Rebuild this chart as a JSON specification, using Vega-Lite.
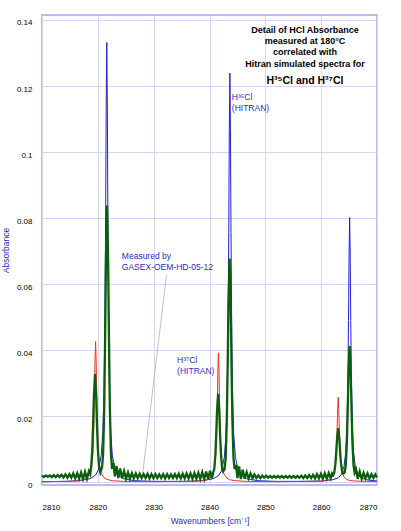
{
  "$schema": "https://vega.github.io/schema/vega-lite/v6.json",
  "width": 335,
  "height": 470,
  "autosize": {"type": "none"},
  "padding": {"left": 42, "top": 15, "right": 24, "bottom": 46},
  "datasets": {
    "spectra": [
      {"wn": 2810, "abs": 0.0002, "series": "H35Cl"},
      {"wn": 2814, "abs": 0.0003, "series": "H35Cl"},
      {"wn": 2816.6, "abs": 0.0005, "series": "H35Cl"},
      {"wn": 2818.6, "abs": 0.0011, "series": "H35Cl"},
      {"wn": 2819.6, "abs": 0.0022, "series": "H35Cl"},
      {"wn": 2820.1, "abs": 0.0038, "series": "H35Cl"},
      {"wn": 2820.6, "abs": 0.008, "series": "H35Cl"},
      {"wn": 2820.9, "abs": 0.0152, "series": "H35Cl"},
      {"wn": 2821.1, "abs": 0.0268, "series": "H35Cl"},
      {"wn": 2821.25, "abs": 0.045, "series": "H35Cl"},
      {"wn": 2821.4, "abs": 0.0813, "series": "H35Cl"},
      {"wn": 2821.5, "abs": 0.1148, "series": "H35Cl"},
      {"wn": 2821.6, "abs": 0.1332, "series": "H35Cl"},
      {"wn": 2821.7, "abs": 0.1148, "series": "H35Cl"},
      {"wn": 2821.8, "abs": 0.0813, "series": "H35Cl"},
      {"wn": 2821.95, "abs": 0.045, "series": "H35Cl"},
      {"wn": 2822.1, "abs": 0.0268, "series": "H35Cl"},
      {"wn": 2822.3, "abs": 0.0152, "series": "H35Cl"},
      {"wn": 2822.6, "abs": 0.008, "series": "H35Cl"},
      {"wn": 2823.1, "abs": 0.0038, "series": "H35Cl"},
      {"wn": 2823.6, "abs": 0.0022, "series": "H35Cl"},
      {"wn": 2824.6, "abs": 0.0011, "series": "H35Cl"},
      {"wn": 2826.6, "abs": 0.0005, "series": "H35Cl"},
      {"wn": 2830, "abs": 0.0003, "series": "H35Cl"},
      {"wn": 2835, "abs": 0.0003, "series": "H35Cl"},
      {"wn": 2838.65, "abs": 0.0005, "series": "H35Cl"},
      {"wn": 2840.65, "abs": 0.0011, "series": "H35Cl"},
      {"wn": 2841.65, "abs": 0.0021, "series": "H35Cl"},
      {"wn": 2842.15, "abs": 0.0035, "series": "H35Cl"},
      {"wn": 2842.65, "abs": 0.0075, "series": "H35Cl"},
      {"wn": 2842.95, "abs": 0.0142, "series": "H35Cl"},
      {"wn": 2843.15, "abs": 0.0249, "series": "H35Cl"},
      {"wn": 2843.3, "abs": 0.042, "series": "H35Cl"},
      {"wn": 2843.45, "abs": 0.0757, "series": "H35Cl"},
      {"wn": 2843.55, "abs": 0.1068, "series": "H35Cl"},
      {"wn": 2843.65, "abs": 0.1239, "series": "H35Cl"},
      {"wn": 2843.75, "abs": 0.1068, "series": "H35Cl"},
      {"wn": 2843.85, "abs": 0.0757, "series": "H35Cl"},
      {"wn": 2844.0, "abs": 0.042, "series": "H35Cl"},
      {"wn": 2844.15, "abs": 0.0249, "series": "H35Cl"},
      {"wn": 2844.35, "abs": 0.0142, "series": "H35Cl"},
      {"wn": 2844.65, "abs": 0.0075, "series": "H35Cl"},
      {"wn": 2845.15, "abs": 0.0035, "series": "H35Cl"},
      {"wn": 2845.65, "abs": 0.0021, "series": "H35Cl"},
      {"wn": 2846.65, "abs": 0.0011, "series": "H35Cl"},
      {"wn": 2848.65, "abs": 0.0005, "series": "H35Cl"},
      {"wn": 2852, "abs": 0.0003, "series": "H35Cl"},
      {"wn": 2856, "abs": 0.0003, "series": "H35Cl"},
      {"wn": 2860.1, "abs": 0.0004, "series": "H35Cl"},
      {"wn": 2862.1, "abs": 0.0008, "series": "H35Cl"},
      {"wn": 2863.1, "abs": 0.0014, "series": "H35Cl"},
      {"wn": 2863.6, "abs": 0.0024, "series": "H35Cl"},
      {"wn": 2864.1, "abs": 0.0049, "series": "H35Cl"},
      {"wn": 2864.4, "abs": 0.0092, "series": "H35Cl"},
      {"wn": 2864.6, "abs": 0.0162, "series": "H35Cl"},
      {"wn": 2864.75, "abs": 0.0272, "series": "H35Cl"},
      {"wn": 2864.9, "abs": 0.049, "series": "H35Cl"},
      {"wn": 2865.0, "abs": 0.0692, "series": "H35Cl"},
      {"wn": 2865.1, "abs": 0.0802, "series": "H35Cl"},
      {"wn": 2865.2, "abs": 0.0692, "series": "H35Cl"},
      {"wn": 2865.3, "abs": 0.049, "series": "H35Cl"},
      {"wn": 2865.45, "abs": 0.0272, "series": "H35Cl"},
      {"wn": 2865.6, "abs": 0.0162, "series": "H35Cl"},
      {"wn": 2865.8, "abs": 0.0092, "series": "H35Cl"},
      {"wn": 2866.1, "abs": 0.0049, "series": "H35Cl"},
      {"wn": 2866.6, "abs": 0.0024, "series": "H35Cl"},
      {"wn": 2867.1, "abs": 0.0014, "series": "H35Cl"},
      {"wn": 2868.1, "abs": 0.0008, "series": "H35Cl"},
      {"wn": 2870, "abs": 0.0004, "series": "H35Cl"},

      {"wn": 2810, "abs": 0.0002, "series": "H37Cl"},
      {"wn": 2814.6, "abs": 0.0003, "series": "H37Cl"},
      {"wn": 2816.6, "abs": 0.0005, "series": "H37Cl"},
      {"wn": 2817.6, "abs": 0.0009, "series": "H37Cl"},
      {"wn": 2818.1, "abs": 0.0014, "series": "H37Cl"},
      {"wn": 2818.6, "abs": 0.0027, "series": "H37Cl"},
      {"wn": 2818.9, "abs": 0.005, "series": "H37Cl"},
      {"wn": 2819.1, "abs": 0.0087, "series": "H37Cl"},
      {"wn": 2819.25, "abs": 0.0145, "series": "H37Cl"},
      {"wn": 2819.4, "abs": 0.0261, "series": "H37Cl"},
      {"wn": 2819.5, "abs": 0.0367, "series": "H37Cl"},
      {"wn": 2819.6, "abs": 0.0426, "series": "H37Cl"},
      {"wn": 2819.7, "abs": 0.0367, "series": "H37Cl"},
      {"wn": 2819.8, "abs": 0.0261, "series": "H37Cl"},
      {"wn": 2819.95, "abs": 0.0145, "series": "H37Cl"},
      {"wn": 2820.1, "abs": 0.0087, "series": "H37Cl"},
      {"wn": 2820.3, "abs": 0.005, "series": "H37Cl"},
      {"wn": 2820.6, "abs": 0.0027, "series": "H37Cl"},
      {"wn": 2821.1, "abs": 0.0014, "series": "H37Cl"},
      {"wn": 2821.6, "abs": 0.0009, "series": "H37Cl"},
      {"wn": 2822.6, "abs": 0.0005, "series": "H37Cl"},
      {"wn": 2824.6, "abs": 0.0003, "series": "H37Cl"},
      {"wn": 2830, "abs": 0.0002, "series": "H37Cl"},
      {"wn": 2836.6, "abs": 0.0003, "series": "H37Cl"},
      {"wn": 2838.6, "abs": 0.0005, "series": "H37Cl"},
      {"wn": 2839.6, "abs": 0.0008, "series": "H37Cl"},
      {"wn": 2840.1, "abs": 0.0013, "series": "H37Cl"},
      {"wn": 2840.6, "abs": 0.0025, "series": "H37Cl"},
      {"wn": 2840.9, "abs": 0.0046, "series": "H37Cl"},
      {"wn": 2841.1, "abs": 0.008, "series": "H37Cl"},
      {"wn": 2841.25, "abs": 0.0134, "series": "H37Cl"},
      {"wn": 2841.4, "abs": 0.024, "series": "H37Cl"},
      {"wn": 2841.5, "abs": 0.0338, "series": "H37Cl"},
      {"wn": 2841.6, "abs": 0.0392, "series": "H37Cl"},
      {"wn": 2841.7, "abs": 0.0338, "series": "H37Cl"},
      {"wn": 2841.8, "abs": 0.024, "series": "H37Cl"},
      {"wn": 2841.95, "abs": 0.0134, "series": "H37Cl"},
      {"wn": 2842.1, "abs": 0.008, "series": "H37Cl"},
      {"wn": 2842.3, "abs": 0.0046, "series": "H37Cl"},
      {"wn": 2842.6, "abs": 0.0025, "series": "H37Cl"},
      {"wn": 2843.1, "abs": 0.0013, "series": "H37Cl"},
      {"wn": 2843.6, "abs": 0.0008, "series": "H37Cl"},
      {"wn": 2844.6, "abs": 0.0005, "series": "H37Cl"},
      {"wn": 2846.6, "abs": 0.0003, "series": "H37Cl"},
      {"wn": 2852, "abs": 0.0002, "series": "H37Cl"},
      {"wn": 2858.05, "abs": 0.0003, "series": "H37Cl"},
      {"wn": 2860.05, "abs": 0.0004, "series": "H37Cl"},
      {"wn": 2861.05, "abs": 0.0006, "series": "H37Cl"},
      {"wn": 2861.55, "abs": 0.0009, "series": "H37Cl"},
      {"wn": 2862.05, "abs": 0.0017, "series": "H37Cl"},
      {"wn": 2862.35, "abs": 0.0031, "series": "H37Cl"},
      {"wn": 2862.55, "abs": 0.0053, "series": "H37Cl"},
      {"wn": 2862.7, "abs": 0.0089, "series": "H37Cl"},
      {"wn": 2862.85, "abs": 0.0158, "series": "H37Cl"},
      {"wn": 2862.95, "abs": 0.0223, "series": "H37Cl"},
      {"wn": 2863.05, "abs": 0.0258, "series": "H37Cl"},
      {"wn": 2863.15, "abs": 0.0223, "series": "H37Cl"},
      {"wn": 2863.25, "abs": 0.0158, "series": "H37Cl"},
      {"wn": 2863.4, "abs": 0.0089, "series": "H37Cl"},
      {"wn": 2863.55, "abs": 0.0053, "series": "H37Cl"},
      {"wn": 2863.75, "abs": 0.0031, "series": "H37Cl"},
      {"wn": 2864.05, "abs": 0.0017, "series": "H37Cl"},
      {"wn": 2864.55, "abs": 0.0009, "series": "H37Cl"},
      {"wn": 2865.05, "abs": 0.0006, "series": "H37Cl"},
      {"wn": 2866.05, "abs": 0.0004, "series": "H37Cl"},
      {"wn": 2868.05, "abs": 0.0003, "series": "H37Cl"},
      {"wn": 2870, "abs": 0.0002, "series": "H37Cl"},

      {"wn": 2810.0, "abs": 0.0021, "series": "Measured"},
      {"wn": 2810.35, "abs": 0.0016, "series": "Measured"},
      {"wn": 2810.7, "abs": 0.0021, "series": "Measured"},
      {"wn": 2811.05, "abs": 0.0017, "series": "Measured"},
      {"wn": 2811.4, "abs": 0.0021, "series": "Measured"},
      {"wn": 2811.75, "abs": 0.0016, "series": "Measured"},
      {"wn": 2812.1, "abs": 0.0022, "series": "Measured"},
      {"wn": 2812.45, "abs": 0.0016, "series": "Measured"},
      {"wn": 2812.8, "abs": 0.0022, "series": "Measured"},
      {"wn": 2813.15, "abs": 0.0016, "series": "Measured"},
      {"wn": 2813.5, "abs": 0.0023, "series": "Measured"},
      {"wn": 2813.85, "abs": 0.0015, "series": "Measured"},
      {"wn": 2814.2, "abs": 0.0024, "series": "Measured"},
      {"wn": 2814.55, "abs": 0.0014, "series": "Measured"},
      {"wn": 2814.9, "abs": 0.0025, "series": "Measured"},
      {"wn": 2815.25, "abs": 0.0014, "series": "Measured"},
      {"wn": 2815.6, "abs": 0.0027, "series": "Measured"},
      {"wn": 2815.95, "abs": 0.0012, "series": "Measured"},
      {"wn": 2816.3, "abs": 0.0028, "series": "Measured"},
      {"wn": 2816.65, "abs": 0.0011, "series": "Measured"},
      {"wn": 2817.0, "abs": 0.003, "series": "Measured"},
      {"wn": 2817.35, "abs": 0.001, "series": "Measured"},
      {"wn": 2817.7, "abs": 0.0032, "series": "Measured"},
      {"wn": 2818.05, "abs": 0.0011, "series": "Measured"},
      {"wn": 2818.4, "abs": 0.0034, "series": "Measured"},
      {"wn": 2818.65, "abs": 0.0025, "series": "Measured"},
      {"wn": 2818.8, "abs": 0.0045, "series": "Measured"},
      {"wn": 2819.0, "abs": 0.0097, "series": "Measured"},
      {"wn": 2819.15, "abs": 0.0173, "series": "Measured"},
      {"wn": 2819.3, "abs": 0.0263, "series": "Measured"},
      {"wn": 2819.5, "abs": 0.0328, "series": "Measured"},
      {"wn": 2819.7, "abs": 0.0263, "series": "Measured"},
      {"wn": 2819.85, "abs": 0.0173, "series": "Measured"},
      {"wn": 2820.0, "abs": 0.0102, "series": "Measured"},
      {"wn": 2820.2, "abs": 0.0051, "series": "Measured"},
      {"wn": 2820.45, "abs": 0.003, "series": "Measured"},
      {"wn": 2820.75, "abs": 0.0045, "series": "Measured"},
      {"wn": 2820.95, "abs": 0.0086, "series": "Measured"},
      {"wn": 2821.15, "abs": 0.0228, "series": "Measured"},
      {"wn": 2821.3, "abs": 0.0428, "series": "Measured"},
      {"wn": 2821.45, "abs": 0.0666, "series": "Measured"},
      {"wn": 2821.65, "abs": 0.0838, "series": "Measured"},
      {"wn": 2821.85, "abs": 0.0666, "series": "Measured"},
      {"wn": 2822.0, "abs": 0.0428, "series": "Measured"},
      {"wn": 2822.15, "abs": 0.0228, "series": "Measured"},
      {"wn": 2822.35, "abs": 0.0086, "series": "Measured"},
      {"wn": 2822.55, "abs": 0.0041, "series": "Measured"},
      {"wn": 2822.8, "abs": 0.0058, "series": "Measured"},
      {"wn": 2823.05, "abs": 0.0018, "series": "Measured"},
      {"wn": 2823.35, "abs": 0.005, "series": "Measured"},
      {"wn": 2823.65, "abs": 0.0013, "series": "Measured"},
      {"wn": 2824.0, "abs": 0.0042, "series": "Measured"},
      {"wn": 2824.35, "abs": 0.0012, "series": "Measured"},
      {"wn": 2824.7, "abs": 0.0034, "series": "Measured"},
      {"wn": 2825.05, "abs": 0.0011, "series": "Measured"},
      {"wn": 2825.4, "abs": 0.003, "series": "Measured"},
      {"wn": 2825.75, "abs": 0.0011, "series": "Measured"},
      {"wn": 2826.1, "abs": 0.0028, "series": "Measured"},
      {"wn": 2826.45, "abs": 0.0012, "series": "Measured"},
      {"wn": 2826.8, "abs": 0.0027, "series": "Measured"},
      {"wn": 2827.15, "abs": 0.0013, "series": "Measured"},
      {"wn": 2827.5, "abs": 0.0026, "series": "Measured"},
      {"wn": 2827.85, "abs": 0.0013, "series": "Measured"},
      {"wn": 2828.2, "abs": 0.0025, "series": "Measured"},
      {"wn": 2828.55, "abs": 0.0013, "series": "Measured"},
      {"wn": 2828.9, "abs": 0.0026, "series": "Measured"},
      {"wn": 2829.25, "abs": 0.0012, "series": "Measured"},
      {"wn": 2829.6, "abs": 0.0025, "series": "Measured"},
      {"wn": 2829.95, "abs": 0.0013, "series": "Measured"},
      {"wn": 2830.3, "abs": 0.0025, "series": "Measured"},
      {"wn": 2830.65, "abs": 0.0013, "series": "Measured"},
      {"wn": 2831.0, "abs": 0.0024, "series": "Measured"},
      {"wn": 2831.35, "abs": 0.0013, "series": "Measured"},
      {"wn": 2831.7, "abs": 0.0025, "series": "Measured"},
      {"wn": 2832.05, "abs": 0.0012, "series": "Measured"},
      {"wn": 2832.4, "abs": 0.0025, "series": "Measured"},
      {"wn": 2832.75, "abs": 0.0013, "series": "Measured"},
      {"wn": 2833.1, "abs": 0.0024, "series": "Measured"},
      {"wn": 2833.45, "abs": 0.0013, "series": "Measured"},
      {"wn": 2833.8, "abs": 0.0025, "series": "Measured"},
      {"wn": 2834.15, "abs": 0.0013, "series": "Measured"},
      {"wn": 2834.5, "abs": 0.0026, "series": "Measured"},
      {"wn": 2834.85, "abs": 0.0012, "series": "Measured"},
      {"wn": 2835.2, "abs": 0.0026, "series": "Measured"},
      {"wn": 2835.55, "abs": 0.0012, "series": "Measured"},
      {"wn": 2835.9, "abs": 0.0027, "series": "Measured"},
      {"wn": 2836.25, "abs": 0.0012, "series": "Measured"},
      {"wn": 2836.6, "abs": 0.0027, "series": "Measured"},
      {"wn": 2836.95, "abs": 0.0011, "series": "Measured"},
      {"wn": 2837.3, "abs": 0.0028, "series": "Measured"},
      {"wn": 2837.65, "abs": 0.0011, "series": "Measured"},
      {"wn": 2838.0, "abs": 0.0029, "series": "Measured"},
      {"wn": 2838.35, "abs": 0.001, "series": "Measured"},
      {"wn": 2838.7, "abs": 0.0031, "series": "Measured"},
      {"wn": 2839.05, "abs": 0.001, "series": "Measured"},
      {"wn": 2839.4, "abs": 0.0033, "series": "Measured"},
      {"wn": 2839.75, "abs": 0.001, "series": "Measured"},
      {"wn": 2840.1, "abs": 0.0035, "series": "Measured"},
      {"wn": 2840.45, "abs": 0.0012, "series": "Measured"},
      {"wn": 2840.65, "abs": 0.003, "series": "Measured"},
      {"wn": 2840.85, "abs": 0.0039, "series": "Measured"},
      {"wn": 2841.05, "abs": 0.0082, "series": "Measured"},
      {"wn": 2841.2, "abs": 0.0143, "series": "Measured"},
      {"wn": 2841.35, "abs": 0.0216, "series": "Measured"},
      {"wn": 2841.55, "abs": 0.0268, "series": "Measured"},
      {"wn": 2841.75, "abs": 0.0216, "series": "Measured"},
      {"wn": 2841.9, "abs": 0.0143, "series": "Measured"},
      {"wn": 2842.05, "abs": 0.0087, "series": "Measured"},
      {"wn": 2842.25, "abs": 0.0045, "series": "Measured"},
      {"wn": 2842.45, "abs": 0.0033, "series": "Measured"},
      {"wn": 2842.7, "abs": 0.004, "series": "Measured"},
      {"wn": 2842.9, "abs": 0.0073, "series": "Measured"},
      {"wn": 2843.1, "abs": 0.0187, "series": "Measured"},
      {"wn": 2843.25, "abs": 0.0348, "series": "Measured"},
      {"wn": 2843.4, "abs": 0.0538, "series": "Measured"},
      {"wn": 2843.6, "abs": 0.0678, "series": "Measured"},
      {"wn": 2843.8, "abs": 0.0538, "series": "Measured"},
      {"wn": 2843.95, "abs": 0.0348, "series": "Measured"},
      {"wn": 2844.1, "abs": 0.0187, "series": "Measured"},
      {"wn": 2844.3, "abs": 0.0073, "series": "Measured"},
      {"wn": 2844.5, "abs": 0.004, "series": "Measured"},
      {"wn": 2844.75, "abs": 0.0053, "series": "Measured"},
      {"wn": 2845.0, "abs": 0.0013, "series": "Measured"},
      {"wn": 2845.3, "abs": 0.0048, "series": "Measured"},
      {"wn": 2845.6, "abs": 0.001, "series": "Measured"},
      {"wn": 2845.95, "abs": 0.0038, "series": "Measured"},
      {"wn": 2846.3, "abs": 0.0011, "series": "Measured"},
      {"wn": 2846.65, "abs": 0.0031, "series": "Measured"},
      {"wn": 2847.0, "abs": 0.0012, "series": "Measured"},
      {"wn": 2847.35, "abs": 0.0027, "series": "Measured"},
      {"wn": 2847.7, "abs": 0.0013, "series": "Measured"},
      {"wn": 2848.05, "abs": 0.0024, "series": "Measured"},
      {"wn": 2848.4, "abs": 0.0013, "series": "Measured"},
      {"wn": 2848.75, "abs": 0.0021, "series": "Measured"},
      {"wn": 2849.1, "abs": 0.0013, "series": "Measured"},
      {"wn": 2849.45, "abs": 0.002, "series": "Measured"},
      {"wn": 2849.8, "abs": 0.0014, "series": "Measured"},
      {"wn": 2850.15, "abs": 0.002, "series": "Measured"},
      {"wn": 2850.5, "abs": 0.0014, "series": "Measured"},
      {"wn": 2850.85, "abs": 0.0019, "series": "Measured"},
      {"wn": 2851.2, "abs": 0.0014, "series": "Measured"},
      {"wn": 2851.55, "abs": 0.0019, "series": "Measured"},
      {"wn": 2851.9, "abs": 0.0014, "series": "Measured"},
      {"wn": 2852.25, "abs": 0.0019, "series": "Measured"},
      {"wn": 2852.6, "abs": 0.0014, "series": "Measured"},
      {"wn": 2852.95, "abs": 0.0019, "series": "Measured"},
      {"wn": 2853.3, "abs": 0.0014, "series": "Measured"},
      {"wn": 2853.65, "abs": 0.0019, "series": "Measured"},
      {"wn": 2854.0, "abs": 0.0014, "series": "Measured"},
      {"wn": 2854.35, "abs": 0.0019, "series": "Measured"},
      {"wn": 2854.7, "abs": 0.0014, "series": "Measured"},
      {"wn": 2855.05, "abs": 0.0019, "series": "Measured"},
      {"wn": 2855.4, "abs": 0.0014, "series": "Measured"},
      {"wn": 2855.75, "abs": 0.0019, "series": "Measured"},
      {"wn": 2856.1, "abs": 0.0014, "series": "Measured"},
      {"wn": 2856.45, "abs": 0.002, "series": "Measured"},
      {"wn": 2856.8, "abs": 0.0013, "series": "Measured"},
      {"wn": 2857.15, "abs": 0.0021, "series": "Measured"},
      {"wn": 2857.5, "abs": 0.0013, "series": "Measured"},
      {"wn": 2857.85, "abs": 0.0022, "series": "Measured"},
      {"wn": 2858.2, "abs": 0.0013, "series": "Measured"},
      {"wn": 2858.55, "abs": 0.0023, "series": "Measured"},
      {"wn": 2858.9, "abs": 0.0012, "series": "Measured"},
      {"wn": 2859.25, "abs": 0.0025, "series": "Measured"},
      {"wn": 2859.6, "abs": 0.0012, "series": "Measured"},
      {"wn": 2859.95, "abs": 0.0026, "series": "Measured"},
      {"wn": 2860.3, "abs": 0.0011, "series": "Measured"},
      {"wn": 2860.65, "abs": 0.0027, "series": "Measured"},
      {"wn": 2861.0, "abs": 0.0011, "series": "Measured"},
      {"wn": 2861.35, "abs": 0.0028, "series": "Measured"},
      {"wn": 2861.7, "abs": 0.0012, "series": "Measured"},
      {"wn": 2861.95, "abs": 0.0027, "series": "Measured"},
      {"wn": 2862.15, "abs": 0.0022, "series": "Measured"},
      {"wn": 2862.35, "abs": 0.003, "series": "Measured"},
      {"wn": 2862.55, "abs": 0.0055, "series": "Measured"},
      {"wn": 2862.7, "abs": 0.0091, "series": "Measured"},
      {"wn": 2862.85, "abs": 0.0133, "series": "Measured"},
      {"wn": 2863.05, "abs": 0.0164, "series": "Measured"},
      {"wn": 2863.25, "abs": 0.0133, "series": "Measured"},
      {"wn": 2863.4, "abs": 0.0091, "series": "Measured"},
      {"wn": 2863.55, "abs": 0.0058, "series": "Measured"},
      {"wn": 2863.75, "abs": 0.0034, "series": "Measured"},
      {"wn": 2863.95, "abs": 0.0027, "series": "Measured"},
      {"wn": 2864.2, "abs": 0.0029, "series": "Measured"},
      {"wn": 2864.4, "abs": 0.0051, "series": "Measured"},
      {"wn": 2864.6, "abs": 0.0119, "series": "Measured"},
      {"wn": 2864.75, "abs": 0.0216, "series": "Measured"},
      {"wn": 2864.9, "abs": 0.033, "series": "Measured"},
      {"wn": 2865.1, "abs": 0.0413, "series": "Measured"},
      {"wn": 2865.3, "abs": 0.033, "series": "Measured"},
      {"wn": 2865.45, "abs": 0.0216, "series": "Measured"},
      {"wn": 2865.6, "abs": 0.0119, "series": "Measured"},
      {"wn": 2865.8, "abs": 0.0051, "series": "Measured"},
      {"wn": 2866.0, "abs": 0.0029, "series": "Measured"},
      {"wn": 2866.25, "abs": 0.0039, "series": "Measured"},
      {"wn": 2866.55, "abs": 0.0011, "series": "Measured"},
      {"wn": 2866.9, "abs": 0.0033, "series": "Measured"},
      {"wn": 2867.25, "abs": 0.0011, "series": "Measured"},
      {"wn": 2867.6, "abs": 0.0029, "series": "Measured"},
      {"wn": 2867.95, "abs": 0.0012, "series": "Measured"},
      {"wn": 2868.3, "abs": 0.0027, "series": "Measured"},
      {"wn": 2868.65, "abs": 0.0012, "series": "Measured"},
      {"wn": 2869.0, "abs": 0.0025, "series": "Measured"},
      {"wn": 2869.35, "abs": 0.0013, "series": "Measured"},
      {"wn": 2869.7, "abs": 0.0024, "series": "Measured"},
      {"wn": 2870.0, "abs": 0.0015, "series": "Measured"}
    ],
    "notes": [
      {"wn": 2857.1, "abs": 0.1371, "text": "Detail of HCl Absorbance", "kind": "title"},
      {"wn": 2857.1, "abs": 0.1335, "text": "measured at 180°C", "kind": "title"},
      {"wn": 2857.1, "abs": 0.1302, "text": "correlated with", "kind": "title"},
      {"wn": 2857.1, "abs": 0.1267, "text": "Hitran simulated spectra for", "kind": "title"},
      {"wn": 2857.1, "abs": 0.1216, "text": "H³⁵Cl and H³⁷Cl", "kind": "formula"},
      {"wn": 2824.3, "abs": 0.0684, "text": "Measured by", "kind": "label"},
      {"wn": 2824.3, "abs": 0.0653, "text": "GASEX-OEM-HD-05-12", "kind": "label"},
      {"wn": 2834.2, "abs": 0.0371, "text": "H³⁷Cl", "kind": "label"},
      {"wn": 2834.2, "abs": 0.0338, "text": "(HITRAN)", "kind": "label"},
      {"wn": 2844.0, "abs": 0.1168, "text": "H³⁵Cl", "kind": "label"},
      {"wn": 2844.0, "abs": 0.1134, "text": "(HITRAN)", "kind": "label"}
    ],
    "leader": [
      {"wn": 2832.3, "abs": 0.0628, "wn2": 2828.0, "abs2": 0.0022}
    ]
  },
  "encoding": {
    "x": {
      "field": "wn",
      "type": "quantitative",
      "scale": {"domain": [2810, 2870], "nice": false, "zero": false},
      "axis": {
        "title": "Wavenumbers [cm⁻¹]",
        "values": [2810, 2820, 2830, 2840, 2850, 2860, 2870],
        "format": "d",
        "labelPadding": 18,
        "titlePadding": 5
      }
    },
    "y": {
      "field": "abs",
      "type": "quantitative",
      "scale": {"domain": [-0.0008, 0.1415], "nice": false, "zero": false},
      "axis": {
        "title": "Absorbance",
        "values": [0, 0.02, 0.04, 0.06, 0.08, 0.1, 0.12, 0.14],
        "format": "~g",
        "labelPadding": 10,
        "labelOffset": 3,
        "titlePadding": 6
      }
    }
  },
  "layer": [
    {
      "data": {"name": "leader"},
      "mark": {"type": "rule", "color": "#b0b0b0", "strokeWidth": 0.8},
      "encoding": {
        "x2": {"field": "wn2"},
        "y2": {"field": "abs2"}
      }
    },
    {
      "data": {"name": "spectra"},
      "transform": [{"filter": "datum.series == 'H35Cl'"}],
      "mark": {"type": "line", "color": "#1f1fd6", "strokeWidth": 1}
    },
    {
      "data": {"name": "spectra"},
      "transform": [{"filter": "datum.series == 'H37Cl'"}],
      "mark": {"type": "line", "color": "#f0321e", "strokeWidth": 1}
    },
    {
      "data": {"name": "spectra"},
      "transform": [{"filter": "datum.series == 'Measured'"}],
      "mark": {"type": "line", "color": "#0b5f0b", "strokeWidth": 2.3}
    },
    {
      "data": {"name": "notes"},
      "transform": [{"filter": "datum.kind == 'title'"}],
      "mark": {"type": "text", "align": "center", "baseline": "middle", "fontWeight": "bold", "fontSize": 9, "color": "#000000"},
      "encoding": {"text": {"field": "text"}}
    },
    {
      "data": {"name": "notes"},
      "transform": [{"filter": "datum.kind == 'formula'"}],
      "mark": {"type": "text", "align": "center", "baseline": "middle", "fontWeight": "bold", "fontSize": 10.5, "color": "#000000"},
      "encoding": {"text": {"field": "text"}}
    },
    {
      "data": {"name": "notes"},
      "transform": [{"filter": "datum.kind == 'label'"}],
      "mark": {"type": "text", "align": "left", "baseline": "middle", "fontSize": 8.5, "color": "#2c2cc4"},
      "encoding": {"text": {"field": "text"}}
    }
  ],
  "config": {
    "view": {"stroke": "#a4a4e8", "strokeWidth": 1.5},
    "text": {"font": "Liberation Sans"},
    "axis": {
      "labelFont": "Liberation Sans",
      "titleFont": "Liberation Sans",
      "labelFontSize": 8,
      "titleFontSize": 8.5,
      "titleFontWeight": "normal",
      "labelColor": "#000000",
      "titleColor": "#2c2cc4",
      "gridColor": "#d6d6f4",
      "gridWidth": 1,
      "domain": false,
      "ticks": false
    }
  }
}
